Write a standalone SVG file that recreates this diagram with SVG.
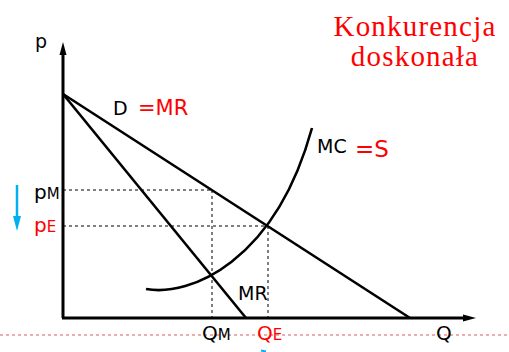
<svg xmlns="http://www.w3.org/2000/svg" width="509" height="352" viewBox="0 0 509 352">
<defs>
<style>
.ax{stroke:#000;stroke-width:3;fill:none}
.ln{stroke:#000;stroke-width:2.6;fill:none}
.dash{stroke:#000;stroke-width:1;stroke-dasharray:3,3;fill:none}
.lbl{font-family:"DejaVu Sans",Verdana,sans-serif;fill:#000}
.red{fill:#ff0000}
.title{font-family:"Liberation Serif","Times New Roman",serif;font-size:29px;fill:#ff0000;text-anchor:middle;letter-spacing:1.2px}
</style>
</defs>
<rect width="509" height="352" fill="#fff"/>
<line x1="0" y1="335" x2="509" y2="335" stroke="#e05a5a" stroke-width="1" stroke-dasharray="3,3"/>
<g id="connectors">
<line class="ax" x1="63" y1="318" x2="63" y2="54"/>
<polygon points="63,42 59.5,55 66.5,55" fill="#000"/>
<line class="ax" x1="62" y1="318" x2="464" y2="318"/>
<polygon points="476,318 463,314.5 463,321.5" fill="#000"/>
<line class="dash" x1="63" y1="190" x2="212" y2="190"/>
<line class="dash" x1="212" y1="190" x2="212" y2="317"/>
<line class="dash" x1="63" y1="226" x2="268" y2="226"/>
<line class="dash" x1="268" y1="226" x2="268" y2="317"/>
<line class="ln" x1="63" y1="94" x2="410" y2="318"/>
<line class="ln" x1="63" y1="94" x2="246" y2="318"/>
<path class="ln" d="M146,289 C190,297 275,262 312,128"/>
<line x1="17" y1="185" x2="17" y2="218" stroke="#00b0f0" stroke-width="2.5"/>
<polygon points="17,231 13,216 21,216" fill="#00b0f0"/>
<line x1="261" y1="350.5" x2="266" y2="351.5" stroke="#00b0f0" stroke-width="2"/>
</g>
<g id="title">
<text class="title" x="415" y="36">Konkurencja</text>
<text class="title" x="415" y="66">doskonała</text>
</g>
<g id="axis-p"><text class="lbl" x="35" y="48" font-size="19">p</text></g>
<g id="axis-q"><text class="lbl" x="436" y="340" font-size="20">Q</text></g>
<g id="D"><text class="lbl" x="113" y="115" font-size="19">D</text><text class="lbl red" x="138" y="115" font-size="21">=MR</text></g>
<g id="MC"><text class="lbl" x="317" y="153" font-size="19">MC</text><text class="lbl red" x="355" y="157" font-size="23">=S</text></g>
<g id="MR"><text class="lbl" x="238" y="300" font-size="19">MR</text></g>
<g id="pM"><text class="lbl" x="34" y="199" font-size="20">p<tspan font-size="15">M</tspan></text></g>
<g id="pE"><text class="lbl red" x="34" y="232" font-size="20">p<tspan font-size="15">E</tspan></text></g>
<g id="QM"><text class="lbl" x="202" y="340" font-size="20">Q<tspan font-size="15">M</tspan></text></g>
<g id="QE"><text class="lbl red" x="257" y="340" font-size="20">Q<tspan font-size="15">E</tspan></text></g>
</svg>
